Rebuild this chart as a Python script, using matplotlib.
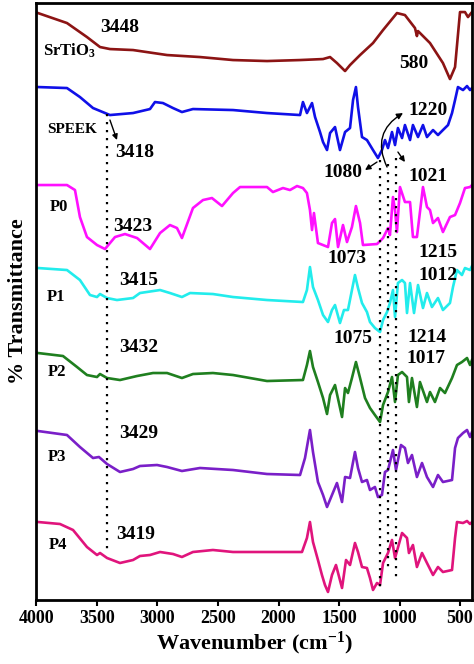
import matplotlib
matplotlib.use("Agg")
import matplotlib.pyplot as plt

plt.rcParams['font.family'] = ['Liberation Serif', 'DejaVu Serif']
plt.rcParams['font.weight'] = 'bold'
plt.rcParams['mathtext.fontset'] = 'custom'
plt.rcParams['mathtext.rm'] = 'Liberation Serif:bold'
plt.rcParams['mathtext.it'] = 'Liberation Serif:bold'
plt.rcParams['mathtext.bf'] = 'Liberation Serif:bold'

# ---- data (wavenumber cm^-1, offset transmittance, arbitrary units) ----
srtio3_wn = [3988, 3748, 3583, 3475, 3393, 3202, 2921, 2649, 2376, 2095, 1822, 1632, 1574, 1517, 1450, 1409,
             1326, 1219, 1136, 1021, 955, 872, 856, 847, 748, 641, 583, 541, 500, 459, 434, 401]
srtio3_t = [587, 577, 563, 553, 551, 550, 545, 543, 540, 539, 540, 541, 543, 537, 529, 535,
            545, 557, 570, 587, 585, 572, 564, 569, 557, 537, 521, 533, 588, 588, 583, 588]

speek_wn = [3988, 3748, 3641, 3533, 3393, 3202, 3062, 3021, 2955, 2872, 2798, 2707, 2376, 2095, 1822,
            1798, 1765, 1723, 1698, 1657, 1632, 1599, 1574, 1533, 1492,
            1450, 1409, 1384, 1360, 1343, 1310, 1269, 1244, 1219, 1178,
            1145, 1120, 1095, 1062, 1037, 1013, 979, 955, 913, 889,
            847, 806, 773, 723, 682, 641, 599, 566, 541, 517,
            475, 442, 417, 401]
speek_t = [513, 512, 503, 492, 485, 487, 491, 498, 497, 492, 488, 491, 490, 487, 485,
           498, 487, 497, 483, 468, 458, 450, 467, 473, 450,
           468, 472, 500, 513, 493, 463, 460, 455, 450, 442,
           450, 460, 452, 468, 455, 472, 462, 475, 460, 475,
           463, 475, 463, 470, 465, 470, 475, 487, 500, 513,
           510, 514, 510, 512]

p0_wn = [3988, 3748, 3682, 3641, 3583, 3500, 3434, 3351, 3269, 3169,
         3062, 2979, 2897, 2839, 2798, 2707, 2624, 2550, 2467, 2376,
         2318, 2095, 2046, 1963, 1905, 1847, 1798, 1765, 1740, 1723,
         1707, 1674, 1591, 1558, 1533, 1508, 1467, 1434, 1393, 1360,
         1326, 1302, 1186, 1136, 1095, 1079, 1054, 1037, 1021, 996,
         955, 913, 889, 856, 806, 773, 748, 723, 682, 641,
         583, 541, 500, 459, 417, 401]
p0_t = [415, 415, 410, 383, 363, 355, 351, 363, 366, 362,
        351, 367, 375, 372, 362, 392, 400, 402, 394, 407,
        413, 413, 408, 412, 410, 414, 412, 407, 390, 370,
        387, 357, 353, 377, 381, 353, 375, 358, 373, 394,
        377, 355, 356, 362, 372, 365, 403, 390, 368, 413,
        398, 398, 363, 363, 413, 393, 390, 377, 382, 368,
        383, 385, 397, 412, 413, 415]

p1_wn = [3988, 3748, 3641, 3558, 3500, 3475, 3417, 3335, 3202, 3145,
         2979, 2897, 2798, 2731, 2542, 2376, 2095, 1798, 1765, 1740,
         1715, 1674, 1632, 1591, 1558, 1533, 1492, 1459, 1426, 1393,
         1368, 1343, 1310, 1269, 1244, 1203, 1161, 1136, 1103, 1079,
         1054, 1037, 1013, 979, 955, 938, 913, 880, 847, 806,
         773, 732, 682, 641, 583, 558, 525, 484, 459, 417, 401]
p1_t = [332, 330, 320, 305, 303, 306, 302, 300, 302, 307,
        310, 307, 303, 307, 306, 303, 300, 298, 310, 333,
        313, 300, 285, 278, 290, 295, 277, 290, 290, 310,
        325, 312, 297, 288, 278, 272, 268, 280, 288, 297,
        310, 283, 317, 320, 317, 287, 317, 287, 315, 292,
        307, 293, 302, 290, 297, 313, 330, 325, 332, 330, 334]

p2_wn = [3988, 3781, 3665, 3583, 3500, 3475, 3417, 3310, 3169, 3037,
         2921, 2798, 2707, 2542, 2376, 2095, 1798, 1765, 1740, 1715,
         1674, 1632, 1599, 1574, 1533, 1475, 1450, 1426, 1393, 1360,
         1326, 1285, 1244, 1203, 1161, 1136, 1095, 1062, 1037, 1013,
         979, 938, 922, 897, 856, 831, 773, 748, 707, 665,
         624, 566, 525, 484, 442, 417, 401]
p2_t = [247, 244, 233, 225, 223, 226, 222, 220, 224, 227,
        227, 222, 226, 227, 225, 219, 220, 235, 249, 233,
        218, 202, 186, 205, 215, 183, 212, 207, 222, 238,
        222, 202, 192, 185, 178, 195, 208, 223, 198, 225,
        228, 223, 198, 222, 193, 218, 198, 208, 198, 212,
        207, 222, 235, 238, 242, 235, 240]

p3_wn = [3988, 3748, 3641, 3533, 3484, 3417, 3310, 3202, 3145, 3004,
         2921, 2798, 2649, 2376, 2095, 1822, 1781, 1740, 1715, 1674,
         1632, 1599, 1558, 1517, 1475, 1450, 1409, 1368, 1343, 1310,
         1269, 1244, 1203, 1178, 1145, 1120, 1095, 1054, 1029, 988,
         955, 930, 897, 856, 814, 773, 723, 682, 641, 566,
         541, 517, 475, 442, 417, 401]
p3_t = [169, 165, 153, 142, 143, 136, 128, 131, 134, 135,
        133, 129, 132, 130, 126, 125, 142, 170, 148, 118,
        105, 93, 105, 117, 98, 123, 122, 148, 132, 118,
        120, 110, 113, 103, 105, 128, 130, 150, 130, 155,
        152, 137, 145, 123, 137, 123, 113, 125, 118, 120,
        152, 162, 167, 170, 163, 168]

p4_wn = [3988, 3806, 3698, 3583, 3500, 3475, 3417, 3310, 3202, 3145,
         3062, 2979, 2872, 2798, 2707, 2542, 2376, 2095, 1806, 1765,
         1740, 1715, 1674, 1641, 1616, 1591, 1558, 1525, 1475, 1442,
         1409, 1368, 1343, 1310, 1269, 1244, 1219, 1186, 1161, 1136,
         1095, 1062, 1037, 979, 938, 922, 889, 856, 814, 773,
         723, 682, 641, 566, 541, 525, 475, 442, 417, 401]
p4_t = [78, 76, 70, 53, 45, 47, 42, 37, 40, 44,
        45, 48, 46, 43, 48, 50, 48, 48, 48, 62,
        78, 58, 40, 25, 15, 8, 25, 35, 12, 40,
        35, 57, 48, 33, 32, 22, 10, 17, 15, 37,
        47, 60, 42, 67, 62, 47, 55, 33, 47, 37,
        25, 33, 28, 30, 62, 78, 77, 79, 76, 78]

series = [
    ("SrTiO3", srtio3_wn, srtio3_t, "#8c1414"),
    ("SPEEK", speek_wn, speek_t, "#1010e8"),
    ("P0", p0_wn, p0_t, "#ff10ff"),
    ("P1", p1_wn, p1_t, "#22ecec"),
    ("P2", p2_wn, p2_t, "#1f7f1f"),
    ("P3", p3_wn, p3_t, "#7a1fc8"),
    ("P4", p4_wn, p4_t, "#e0147c"),
]

# dotted guide lines: wavenumber, top, bottom
guide_wn = [3418, 1165, 1093, 1027]
guide_top = [486, 440, 436, 442]
guide_bot = [47, 13, 30, 19]

# text labels: text, wavenumber, value, fontsize, ha
labels = [
    ("3448", 3310, 573, 14, "center"),
    ("SrTiO$_3$", 3950, 549, 12, "left"),
    ("580", 880, 537, 14, "center"),
    ("SPEEK", 3707, 471, 11, "center"),
    ("3418", 3186, 448, 14, "center"),
    ("1080", 1467, 428, 14, "center"),
    ("1220", 765, 490, 14, "center"),
    ("1021", 765, 424, 14, "center"),
    ("P0", 3814, 393, 12, "center"),
    ("3423", 3202, 374, 14, "center"),
    ("1073", 1434, 342, 14, "center"),
    ("1215", 682, 348, 14, "center"),
    ("1012", 682, 325, 14, "center"),
    ("P1", 3839, 303, 12, "center"),
    ("3415", 3153, 320, 14, "center"),
    ("1075", 1384, 262, 14, "center"),
    ("1214", 773, 263, 14, "center"),
    ("3432", 3153, 253, 14, "center"),
    ("1017", 781, 242, 14, "center"),
    ("P2", 3831, 228, 12, "center"),
    ("3429", 3153, 167, 14, "center"),
    ("P3", 3831, 143, 12, "center"),
    ("3419", 3178, 65, 14, "center"),
    ("P4", 3823, 55, 12, "center"),
]

# straight arrows: (from wn, from val, to wn, to val)
arrows = [
    (3393, 480, 3335, 460),
    (1186, 438, 1285, 430),
    (1013, 448, 955, 438),
]
curved_arrow = (1103, 433, 971, 487)

xticks = [4000, 3500, 3000, 2500, 2000, 1500, 1000, 500]

fig = plt.figure(figsize=(4.74, 6.64), dpi=100)
ax = fig.add_axes([0.077, 0.0964, 0.919, 0.899])

for name, wn, t, col in series:
    ax.plot(wn, t, color=col, lw=1.9, solid_joinstyle='round')

for w, t0, t1 in zip(guide_wn, guide_top, guide_bot):
    ax.plot([w, w], [t0, t1], color='black', lw=1.6, linestyle=(0, (1, 2.6)))

for txt, w, v, fs, ha in labels:
    ax.text(w, v, txt, fontsize=fs, fontweight='bold', ha=ha, va='center', color='black')

for x0, y0, x1, y1 in arrows:
    ax.annotate("", xy=(x1, y1), xytext=(x0, y0),
                arrowprops=dict(arrowstyle='-|>', color='black', lw=1.0,
                                mutation_scale=8, shrinkA=0, shrinkB=0))
x0, y0, x1, y1 = curved_arrow
ax.annotate("", xy=(x1, y1), xytext=(x0, y0),
            arrowprops=dict(arrowstyle='-|>', color='black', lw=1.0, mutation_scale=9,
                            shrinkA=0, shrinkB=0, connectionstyle='arc3,rad=-0.45'))

ax.set_xlim(4000, 400)
ax.set_ylim(0, 597)
ax.set_xticks(xticks)
ax.set_xticklabels([str(v) for v in xticks], fontsize=13, fontweight='bold')
ax.set_yticks([])
ax.tick_params(axis='x', direction='out', length=4, width=1.5, pad=3)
for sp in ax.spines.values():
    sp.set_linewidth(2.0)
ax.set_xlabel("Wavenumber (cm$^{-1}$)", fontsize=16, fontweight='bold', labelpad=2)
ax.set_ylabel("% Transmittance", fontsize=16, fontweight='bold', labelpad=6)

fig.savefig("out.png", dpi=100)
